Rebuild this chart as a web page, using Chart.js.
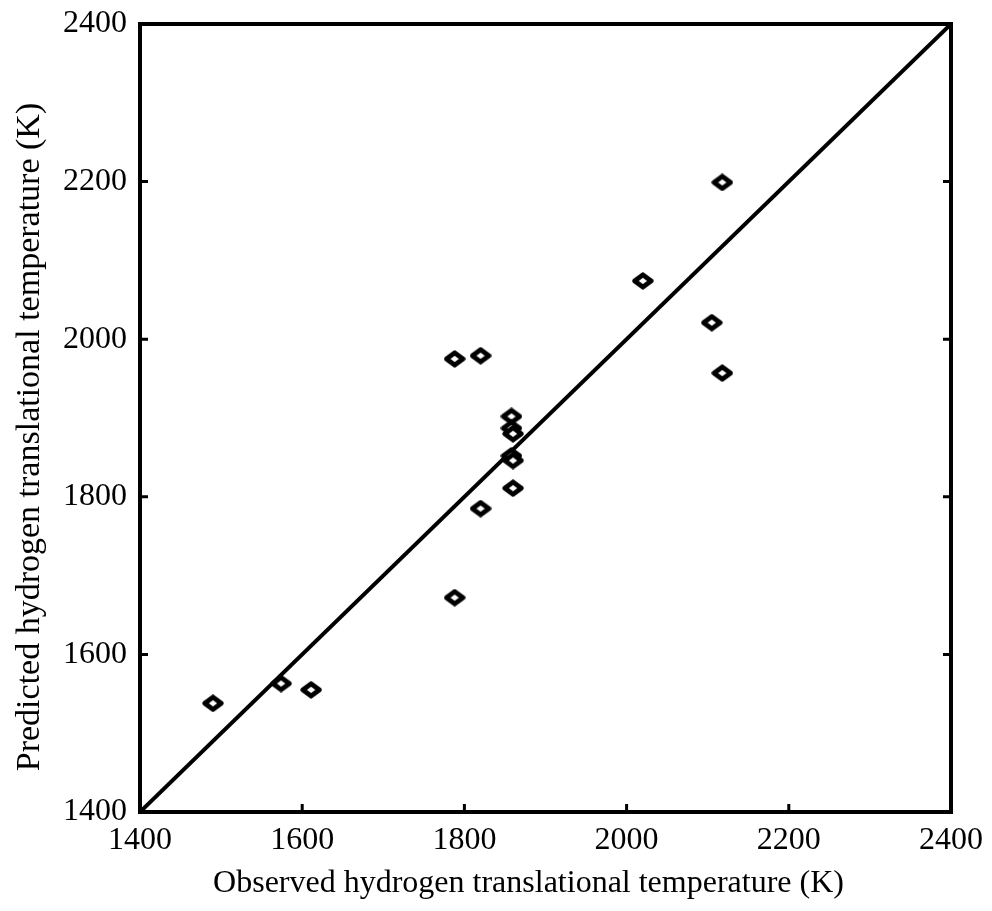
<!DOCTYPE html>
<html>
<head>
<meta charset="utf-8">
<script src="https://cdn.jsdelivr.net/npm/chart.js@4.4.1/dist/chart.umd.min.js"></script>
<style>
  html, body { margin: 0; padding: 0; background: #fff; }
  #wrap { width: 992px; height: 911px; }
</style>
</head>
<body>
<div id="wrap"><canvas id="scatterChart"></canvas></div>
<script>
// valores
const observedTemp = [1490, 1574, 1611, 1788, 1820, 1858, 1858, 1860, 1858, 1860, 1860, 1820, 1788, 2118, 2020, 2105, 2118];
const predictedTemp = [1538, 1563, 1555, 1975, 1979, 1902, 1887, 1880, 1852, 1846, 1811, 1785, 1672, 2199, 2074, 2021, 1957];
const axisTicks = [1400, 1600, 1800, 2000, 2200, 2400];
const identityLine = [1400, 2400];
const xTitle = 'Observed hydrogen translational temperature (K)';
const yTitle = 'Predicted hydrogen translational temperature (K)';

const serif = "'Liberation Serif', 'DejaVu Serif', serif";

// marcador de rombo (un poco aplanado, como en el original)
function makeDiamond() {
    const c = document.createElement('canvas');
    c.width = 22; c.height = 18;
    const g = c.getContext('2d');
    g.lineWidth = 4.8;
    g.lineJoin = 'round';
    g.strokeStyle = '#000';
    g.fillStyle = '#fff';
    g.beginPath();
    g.moveTo(2.8, 9); g.lineTo(11, 2.8); g.lineTo(19.2, 9); g.lineTo(11, 15.2); g.closePath();
    g.fill();
    g.stroke();
    return c;
}

// marco, ticks hacia adentro y titulos de ejes
const framePlugin = {
    id: 'frame',
    afterDraw(chart) {
        const ctx = chart.ctx;
        const a = chart.chartArea;
        const xs = chart.scales.x, ys = chart.scales.y;
        ctx.save();
        ctx.strokeStyle = '#000';
        ctx.lineWidth = 4;
        ctx.strokeRect(a.left, a.top, a.right - a.left, a.bottom - a.top);
        ctx.lineWidth = 3;
        axisTicks.forEach(v => {
            const px = xs.getPixelForValue(v);
            const py = ys.getPixelForValue(v);
            ctx.beginPath();
            ctx.moveTo(px, a.bottom); ctx.lineTo(px, a.bottom - 8);
            ctx.moveTo(a.left, py); ctx.lineTo(a.left + 8, py);
            ctx.moveTo(a.right, py); ctx.lineTo(a.right - 8, py);
            ctx.stroke();
        });

        // titulos
        ctx.fillStyle = '#000';
        ctx.textAlign = 'center';
        ctx.textBaseline = 'middle';
        ctx.font = '32px ' + serif;
        ctx.fillText(xTitle, (a.left + a.right) / 2 - 17, 884);
        ctx.font = '34px ' + serif;
        ctx.translate(30, (a.top + a.bottom) / 2 + 19);
        ctx.rotate(-Math.PI / 2);
        ctx.fillText(yTitle, 0, 0);
        ctx.restore();
    }
};

const ctx = document.getElementById('scatterChart');

new Chart(ctx, {
    type: 'scatter',
    data: {
        datasets: [{
            label: 'y = x',
            type: 'line',
            data: identityLine.map(v => ({ x: v, y: v })),
            borderColor: '#000',
            borderWidth: 4,
            pointRadius: 0,
            fill: false,
            order: 2
        }, {
            label: 'Temperatura',
            data: observedTemp.map((v, i) => ({ x: v, y: predictedTemp[i] })),
            pointStyle: makeDiamond(),
            order: 1
        }]
    },
    options: {
        responsive: true,
        maintainAspectRatio: false,
        animation: false,
        layout: { padding: { top: 24, right: 36, bottom: 0, left: 0 } },
        plugins: {
            legend: { display: false },
            tooltip: { enabled: false }
        },
        scales: {
            x: {
                type: 'linear',
                min: 1400, max: 2400,
                afterBuildTicks: s => { s.ticks = axisTicks.map(v => ({ value: v })); },
                afterFit: s => { s.height = 99; },
                grid: { display: false, drawTicks: false },
                border: { display: false },
                ticks: { color: '#000', padding: 9, font: { family: serif, size: 32 }, callback: v => String(v) }
            },
            y: {
                type: 'linear',
                min: 1400, max: 2400,
                afterBuildTicks: s => { s.ticks = axisTicks.map(v => ({ value: v })); },
                afterFit: s => { s.width = 140; },
                grid: { display: false, drawTicks: false },
                border: { display: false },
                ticks: { color: '#000', padding: 13, font: { family: serif, size: 32, lineHeight: 0.6 }, callback: v => String(v) }
            }
        }
    },
    plugins: [framePlugin]
});
</script>
</body>
</html>
